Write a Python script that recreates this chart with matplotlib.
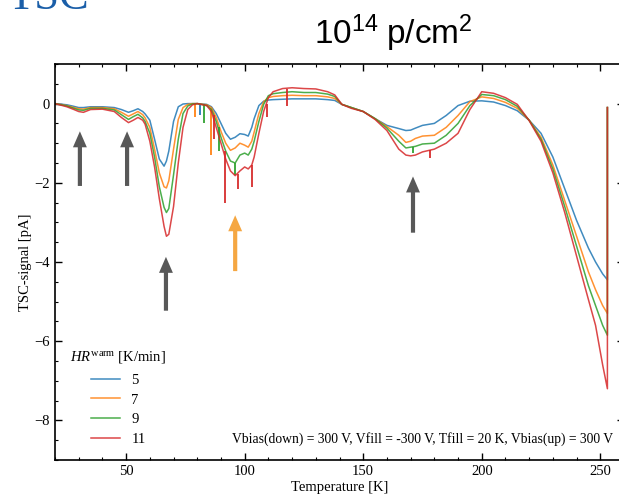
import matplotlib
matplotlib.use("Agg")
import matplotlib.pyplot as plt
from matplotlib.ticker import MultipleLocator

# temperature grid [K] (last point repeated: signal jumps back at the end of the scan)
temps = [20, 25, 28, 30, 32, 35, 40, 45, 48, 51, 53, 55, 57, 58, 60, 62, 64, 66, 67, 68,
         70, 72, 74, 76, 78, 80, 84, 86, 88, 90, 92, 94, 96, 98, 100, 101.5, 103, 104, 106, 108,
         110, 112, 116, 120, 125, 130, 135, 138, 141, 145, 150, 155, 160, 165, 168, 170, 172, 175,
         180, 185, 190, 195, 200, 205, 210, 215, 220, 225, 230, 235, 240, 245, 248, 251, 253, 253]

# TSC signal [pA] for each heating rate
hr5 = [0, -0.03, -0.07, -0.1, -0.1, -0.08, -0.08, -0.1, -0.15, -0.22, -0.18, -0.13, -0.2, -0.26,
       -0.42, -0.9, -1.4, -1.58, -1.45, -1.2, -0.45, -0.08, -0.01, 0, 0, 0, -0.02, -0.08, -0.25,
       -0.5, -0.75, -0.9, -0.85, -0.76, -0.78, -0.82, -0.6, -0.38, -0.05, 0.06, 0.09, 0.1, 0.11,
       0.12, 0.12, 0.12, 0.1, 0.08, -0.02, -0.1, -0.2, -0.38, -0.55, -0.63, -0.68, -0.67, -0.62,
       -0.55, -0.5, -0.3, -0.05, 0.06, 0.07, 0.04, -0.05, -0.18, -0.42, -0.75, -1.35, -2.15,
       -2.95, -3.65, -4.0, -4.3, -4.45, -0.1]
hr7 = [0, -0.05, -0.1, -0.13, -0.14, -0.1, -0.1, -0.13, -0.22, -0.32, -0.26, -0.2, -0.28, -0.36,
       -0.6, -1.15, -1.75, -2.1, -2.13, -1.95, -1.15, -0.4, -0.1, -0.02, 0, 0, -0.03, -0.1, -0.35,
       -0.7, -1.0, -1.18, -1.12, -1.0, -1.05, -1.1, -0.95, -0.72, -0.25, 0.05, 0.15, 0.18, 0.2,
       0.21, 0.2, 0.2, 0.17, 0.13, -0.02, -0.1, -0.2, -0.38, -0.58, -0.8, -0.98, -0.95, -0.88,
       -0.82, -0.8, -0.6, -0.3, 0.05, 0.17, 0.13, 0.03, -0.12, -0.42, -0.85, -1.55, -2.45,
       -3.35, -4.25, -4.7, -5.1, -5.3, -0.1]
hr9 = [0, -0.06, -0.12, -0.16, -0.17, -0.12, -0.12, -0.16, -0.28, -0.4, -0.33, -0.27, -0.36, -0.45,
       -0.75, -1.35, -2.1, -2.62, -2.75, -2.65, -1.8, -0.9, -0.25, -0.06, -0.01, 0, -0.05, -0.15,
       -0.45, -0.85, -1.2, -1.45, -1.5, -1.3, -1.25, -1.3, -1.15, -0.95, -0.45, -0.02, 0.2, 0.25,
       0.28, 0.3, 0.28, 0.28, 0.24, 0.18, -0.02, -0.1, -0.2, -0.38, -0.62, -0.95, -1.12, -1.1,
       -1.08, -1.02, -1.0, -0.8, -0.5, -0.05, 0.23, 0.2, 0.1, -0.07, -0.42, -0.9, -1.65, -2.6,
       -3.6, -4.6, -5.1, -5.6, -5.85, -0.1]
hr11 = [0, -0.08, -0.15, -0.2, -0.22, -0.15, -0.14, -0.2, -0.35, -0.48, -0.42, -0.35, -0.42, -0.52,
        -0.95, -1.6, -2.4, -3.1, -3.35, -3.3, -2.6, -1.5, -0.6, -0.15, -0.03, 0, -0.05, -0.2,
        -0.6, -1.0, -1.4, -1.7, -1.82, -1.7, -1.6, -1.65, -1.55, -1.35, -0.75, -0.2, 0.15, 0.3,
        0.38, 0.4, 0.38, 0.37, 0.3, 0.22, -0.02, -0.12, -0.2, -0.4, -0.68, -1.15, -1.3, -1.32,
        -1.3, -1.22, -1.15, -1.0, -0.75, -0.15, 0.3, 0.26, 0.15, -0.02, -0.43, -0.95, -1.75,
        -2.75, -3.85, -4.95, -5.6, -6.6, -7.2, -0.1]

# narrow spikes: temperature, curve level, spike tip
spikes5 = [(81, 0, -0.3)]
spikes7 = [(79, 0, -0.35), (86, -0.1, -1.3)]
spikes9 = [(83, -0.02, -0.5), (89, -0.6, -1.2), (96, -1.5, -1.8), (171, -1.1, -1.25)]
spikes11 = [(87, -0.3, -0.9), (91.7, -1.2, -2.52), (97, -1.78, -2.15), (103, -1.55, -2.1),
            (109.5, 0.0, -0.35), (118, 0.38, -0.05), (178, -1.18, -1.38)]

rates = ["5", "7", "9", "11"]
colors = ["#1f77b4", "#ff7f0e", "#2ca02c", "#d62728"]

# arrows marking the peaks: temperature, tail, head
arrows_gray = [(30.5, -2.15, -0.63), (50.4, -2.15, -0.63), (66.8, -5.3, -3.8), (171, -3.33, -1.77)]
arrow_orange = (96, -4.3, -2.75)

plt.rcParams['mathtext.fontset'] = 'custom'
plt.rcParams['mathtext.rm'] = 'Liberation Serif'
plt.rcParams['mathtext.it'] = 'Liberation Serif:italic'
plt.rcParams['mathtext.sf'] = 'Liberation Sans'
plt.rcParams['font.family'] = 'Liberation Serif'

fig = plt.figure(figsize=(6.19, 4.94), dpi=100)
ax = fig.add_axes([55 / 619, 34 / 494, 569 / 619, 396 / 494])

series = [hr5, hr7, hr9, hr11]
spike_sets = [spikes5, spikes7, spikes9, spikes11]
for vals, sp, c, lab in zip(series, spike_sets, colors, rates):
    ax.plot(temps, vals, color=c, lw=1.1, alpha=0.85, label=lab)
    ax.vlines([s[0] for s in sp], [s[1] for s in sp], [s[2] for s in sp],
              color=c, lw=1.4, alpha=0.9)

arrow_style = "simple,head_length=1.15,head_width=1.0,tail_width=0.3"
for t, tail, head in arrows_gray:
    ax.annotate("", xy=(t, head), xytext=(t, tail),
                arrowprops=dict(arrowstyle=arrow_style, mutation_scale=10, color="#585858", lw=0))
ax.annotate("", xy=(arrow_orange[0], arrow_orange[2]), xytext=(arrow_orange[0], arrow_orange[1]),
            arrowprops=dict(arrowstyle=arrow_style, mutation_scale=10, color="#f5a742", lw=0))

ax.set_xlim(20, 260)
ax.set_ylim(-9, 1)
ax.xaxis.set_major_locator(MultipleLocator(50))
ax.xaxis.set_minor_locator(MultipleLocator(10))
ax.yaxis.set_major_locator(MultipleLocator(2))
ax.yaxis.set_minor_locator(MultipleLocator(0.5))
ax.tick_params(which='both', direction='in', top=True, right=True, labelsize=10.5)
ax.tick_params(which='major', length=5, width=1)
ax.tick_params(which='minor', length=2.5, width=0.8)
for sp in ax.spines.values():
    sp.set_linewidth(1.2)

ax.set_xlabel("Temperature [K]", fontsize=10.5, labelpad=2)
ax.set_ylabel("TSC-signal [pA]", fontsize=10.5, labelpad=2)

ax.text(94.5, -8.47, "Vbias(down) = 300 V, Vfill = -300 V, Tfill = 20 K, Vbias(up) = 300 V",
        fontsize=9.8, ha='left', va='center')

leg = ax.legend(title=r"$HR^{\mathrm{warm}}$ [K/min]", loc='upper left',
                bbox_to_anchor=(60 / 619, 1 - 339 / 494), bbox_transform=fig.transFigure,
                frameon=False, fontsize=10.5, title_fontsize=10.5, handlelength=2.0,
                labelspacing=0.45, handletextpad=0.8, borderpad=0.2)
leg._legend_box.sep = 6

fig.text(314 / 619, 1 - 33 / 494, r"$\mathsf{10^{14}\ p/cm^{2}}$", fontsize=24,
         ha='left', va='center')
fig.text(7 / 619, 1 - 9 / 494, "TSC", fontsize=32, color="#1a5ea8",
         family="Liberation Serif", ha='left', va='baseline')

fig.savefig("out.png", dpi=100)
